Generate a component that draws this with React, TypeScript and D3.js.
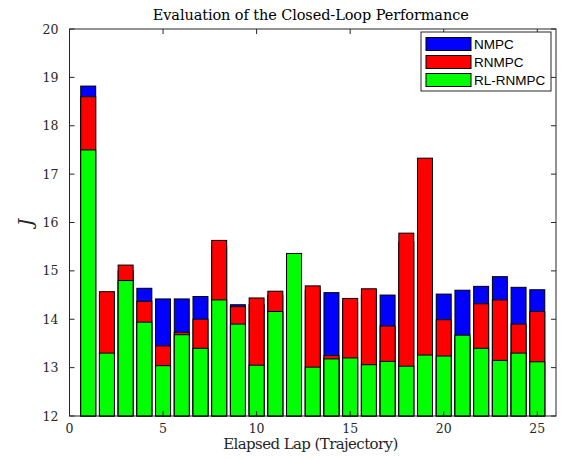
import React from 'react';
import * as d3 from 'd3';

// 圈数 1..25
const laps = d3.range(1, 26);
// 每条bar的高度（从12开始画），被遮住的值是估计
const nmpc = [18.82, 14.5, 15.0, 14.64, 14.42, 14.42, 14.47, 15.5, 14.3, 14.3, 14.5, 15.2, 14.6, 14.55, 14.35, 14.5, 14.5, 15.6, 17.2, 14.52, 14.6, 14.68, 14.88, 14.66, 14.61];
const rnmpc = [18.6, 14.57, 15.12, 14.37, 13.45, 13.73, 14.0, 15.63, 14.26, 14.44, 14.58, 15.3, 14.69, 13.25, 14.43, 14.63, 13.86, 15.78, 17.33, 13.99, 13.6, 14.32, 14.4, 13.9, 14.16];
const rlrnmpc = [17.5, 13.3, 14.8, 13.94, 13.04, 13.68, 13.4, 14.4, 13.9, 13.05, 14.16, 15.36, 13.01, 13.18, 13.2, 13.06, 13.13, 13.03, 13.26, 13.24, 13.67, 13.4, 13.15, 13.3, 13.12];

const seriesNames = ['NMPC', 'RNMPC', 'RL-RNMPC'];
const seriesColors = ['#0000ff', '#ff0000', '#00ff00'];
const xTicks = [0, 5, 10, 15, 20, 25];
const yTicks = [12, 13, 14, 15, 16, 17, 18, 19, 20];

const W = 563;
const H = 460;
const left = 69.5, right = 556, top = 29, bottom = 416;

const App = () => {
  const x = d3.scaleLinear().domain([0, 26]).range([left, right]);
  const y = d3.scaleLinear().domain([12, 20]).range([bottom, top]);
  const bw = x(0.8) - x(0);
  const all = [nmpc, rnmpc, rlrnmpc];
  const axisColor = '#262626';
  const serif = '"DejaVu Serif", "Liberation Serif", serif';
  const sans = '"Liberation Sans", Arial, sans-serif';

  return (
    <svg width={W} height={H} style={{ position: 'absolute', left: 0, top: 0, background: '#fff' }}>
      <rect x={0} y={0} width={W} height={H} fill="#fff" />
      {/* 标题 */}
      <text x={(left + right) / 2 - 2} y={20} textAnchor="middle" fontFamily={serif} fontSize={14.5}
        textLength={316} lengthAdjust="spacing" fill="#000">
        Evaluation of the Closed-Loop Performance
      </text>

      {/* bars: 按顺序覆盖 */}
      {all.map((vals, si) => (
        <g key={si}>
          {vals.map((v, i) => (
            <rect key={i}
              x={x(laps[i]) - bw / 2}
              y={y(v)}
              width={bw}
              height={y(12) - y(v)}
              fill={seriesColors[si]}
              stroke="#000"
              strokeWidth={1} />
          ))}
        </g>
      ))}

      {/* 坐标框 */}
      <rect x={left} y={top} width={right - left} height={bottom - top} fill="none" stroke={axisColor} strokeWidth={1} />

      {/* x刻度 */}
      {xTicks.map(t => (
        <g key={'x' + t}>
          <line x1={x(t)} x2={x(t)} y1={bottom} y2={bottom - 5} stroke={axisColor} />
          <line x1={x(t)} x2={x(t)} y1={top} y2={top + 5} stroke={axisColor} />
          <text x={x(t)} y={bottom + 17} textAnchor="middle" fontFamily={serif} fontSize={12.5} fill={axisColor}>{t}</text>
        </g>
      ))}

      {/* y刻度 */}
      {yTicks.map(t => (
        <g key={'y' + t}>
          <line x1={left} x2={left + 5} y1={y(t)} y2={y(t)} stroke={axisColor} />
          <line x1={right} x2={right - 5} y1={y(t)} y2={y(t)} stroke={axisColor} />
          <text x={left - 11} y={y(t) + 4.5} textAnchor="end" fontFamily={serif} fontSize={12.5} fill={axisColor}>{t}</text>
        </g>
      ))}

      {/* 轴标题 */}
      <text x={(left + right) / 2 - 2} y={449} textAnchor="middle" fontFamily={serif} fontSize={15}
        textLength={175} lengthAdjust="spacing" fill={axisColor}>
        Elapsed Lap (Trajectory)
      </text>
      <text x={0} y={0} transform={`translate(32, ${(top + bottom) / 2}) rotate(-90)`} textAnchor="middle"
        fontFamily={serif} fontStyle="italic" fontSize={18} fill={axisColor}>J</text>

      {/* 图例 */}
      <g>
        <rect x={421} y={32} width={130} height={59} fill="#fff" stroke={axisColor} strokeWidth={1} />
        {seriesNames.map((n, i) => (
          <g key={n}>
            <rect x={426} y={37.5 + i * 18} width={45} height={13} fill={seriesColors[i]} stroke="#000" />
            <text x={474} y={48.5 + i * 18} fontFamily={sans} fontSize={13.5} fill="#000">{n}</text>
          </g>
        ))}
      </g>
    </svg>
  );
};

export default App;
